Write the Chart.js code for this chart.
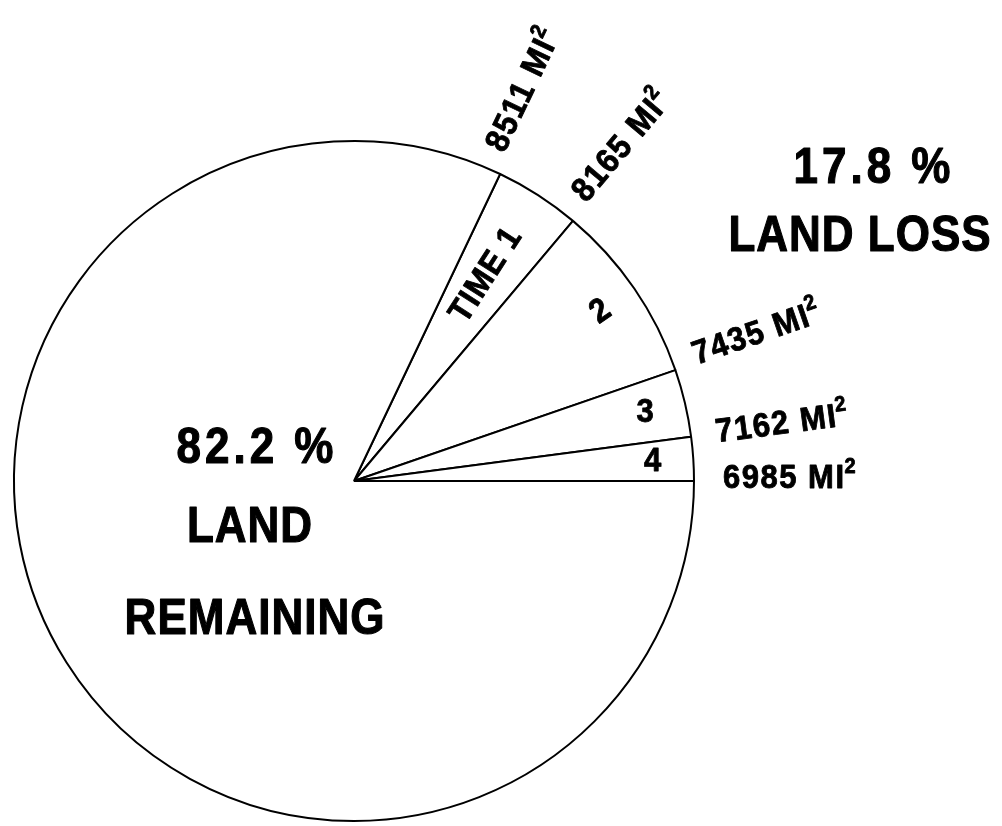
<!DOCTYPE html>
<html>
<head>
<meta charset="utf-8">
<title>Land loss</title>
<script src="https://cdn.jsdelivr.net/npm/chart.js@4.4.1/dist/chart.umd.min.js"></script>
<style>
  html, body { margin: 0; padding: 0; background: #fff; }
  #pie { display: block; }
</style>
</head>
<body>
<canvas id="pie" width="1002" height="826"></canvas>
<script>
// ---- datos ----
const periodLabels = ["TIME 1", "2", "3", "4"];
const areaMi2 = [8511, 8165, 7435, 7162, 6985];   // superficie al inicio y al final de cada periodo
const remainingText = ["82.2 %", "LAND", "REMAINING"];
const lossText = ["17.8 %", "LAND LOSS"];

// perdida en cada periodo + lo que queda
const lossPerPeriod = areaMi2.slice(1).map((a, i) => areaMi2[i] - a);
const sliceValues = [...lossPerPeriod, areaMi2[areaMi2.length - 1]];
const sliceLabels = [...periodLabels, "LAND REMAINING"];
const lostDeg = (areaMi2[0] - areaMi2[areaMi2.length - 1]) / areaMi2[0] * 360;

const FONT = '"Liberation Sans", Arial, Helvetica, sans-serif';

// ajuste fino de las etiquetas de superficie (gap radial, desplazamiento perpendicular)
const outerShift = [[20, -5], [22, -1], [22, 2], [25, 9], [29, 7]];

// texto con un trazo fino y algo estirado en vertical, como la tipografia del original
function boldText(ctx, txt, x, y, sy = 1.08) {
  ctx.save();
  ctx.translate(x, y);
  ctx.scale(1, sy);
  ctx.fillText(txt, 0, 0);
  ctx.strokeText(txt, 0, 0);
  ctx.restore();
}

function drawArea(ctx, value, x, y) {
  ctx.font = "bold 31px " + FONT;
  ctx.letterSpacing = "1.5px";
  const main = value + " MI";
  boldText(ctx, main, x, y);
  const w = ctx.measureText(main).width;
  ctx.font = "bold 20px " + FONT;
  ctx.letterSpacing = "0px";
  boldText(ctx, "2", x + w - 1, y - 15);
}

const labelPlugin = {
  id: "landLabels",
  afterDatasetsDraw(chart) {
    const ctx = chart.ctx;
    const arcs = chart.getDatasetMeta(0).data;
    const cx = arcs[0].x, cy = arcs[0].y, R = arcs[0].outerRadius;
    ctx.save();
    ctx.fillStyle = "#000";
    ctx.strokeStyle = "#000";
    ctx.lineWidth = 0.8;
    ctx.lineJoin = "round";

    // etiquetas de superficie en cada limite
    ctx.textAlign = "left";
    ctx.textBaseline = "alphabetic";
    areaMi2.forEach((v, i) => {
      const a = i < 4 ? arcs[i].startAngle : arcs[3].endAngle;
      const [gap, dy] = outerShift[i];
      ctx.save();
      ctx.translate(cx, cy);
      ctx.rotate(a);
      drawArea(ctx, v, R + gap, dy);
      ctx.restore();
    });

    // numeros de periodo dentro de los sectores
    ctx.textAlign = "center";
    ctx.textBaseline = "middle";
    periodLabels.forEach((txt, i) => {
      const arc = arcs[i];
      const mid = (arc.startAngle + arc.endAngle) / 2;
      const r = i === 0 ? R * 0.72 : R * 0.88;
      ctx.save();
      ctx.translate(cx + r * Math.cos(mid), cy + r * Math.sin(mid));
      if (i < 2) ctx.rotate(mid);
      ctx.font = "bold 31px " + FONT;
      ctx.letterSpacing = i === 0 ? "1px" : "0px";
      boldText(ctx, txt, 0, 0);
      ctx.restore();
    });

    // textos grandes
    ctx.textBaseline = "alphabetic";
    ctx.lineWidth = 1;
    ctx.font = "bold 44px " + FONT;
    ctx.letterSpacing = "4px";
    boldText(ctx, lossText[0], 874, 183, 1.12);
    boldText(ctx, remainingText[0], 257, 463, 1.12);
    ctx.letterSpacing = "1px";
    boldText(ctx, lossText[1], 860, 251, 1.12);
    boldText(ctx, remainingText[1], 250, 542, 1.12);
    boldText(ctx, remainingText[2], 255, 634, 1.12);
    ctx.restore();
  }
};

new Chart(document.getElementById("pie"), {
  type: "pie",
  data: {
    labels: sliceLabels,
    datasets: [{
      data: sliceValues,
      backgroundColor: "#ffffff",
      borderColor: "#000000",
      borderWidth: 2,
      hoverOffset: 0
    }]
  },
  options: {
    responsive: false,
    animation: false,
    rotation: 90 - lostDeg,
    layout: { padding: { left: 13, top: 140, right: 307, bottom: 4 } },
    plugins: {
      legend: { display: false },
      tooltip: { enabled: false }
    }
  },
  plugins: [labelPlugin]
});
</script>
</body>
</html>
